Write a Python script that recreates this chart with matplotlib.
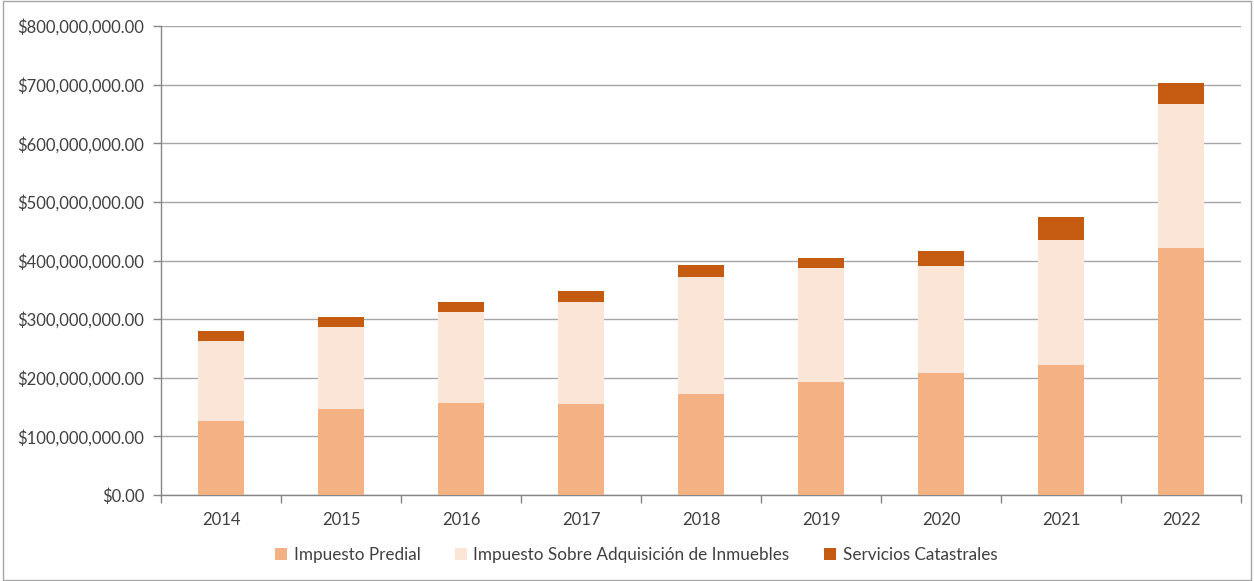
import matplotlib
matplotlib.use("Agg")
import matplotlib.pyplot as plt
from matplotlib.ticker import FuncFormatter, FixedLocator
import numpy as np

years = ["2014", "2015", "2016", "2017", "2018", "2019", "2020", "2021", "2022"]
predial = [126, 147, 157, 155, 172, 193, 208, 222, 421]          # millions
isai = [137, 140, 155, 174, 200, 194, 183, 213, 246]             # millions
catastrales = [17, 17, 17, 19, 20, 17, 25, 39, 36]               # millions
series_names = ["Impuesto Predial", "Impuesto Sobre Adquisición de Inmuebles", "Servicios Catastrales"]
colors = ["#F4B183", "#FBE5D6", "#C55A11"]

plt.rcParams['font.family'] = ['Lato', 'DejaVu Sans']

fig = plt.figure(figsize=(12.54, 5.81), dpi=100)
ax = fig.add_axes([161/1254, 1 - 495/581, (1241-161)/1254, (495-26)/581])

x = np.arange(len(years))
scale = 1e6
p = np.array(predial) * scale
i = np.array(isai) * scale
c = np.array(catastrales) * scale
w = 0.39
ax.bar(x, p, w, color=colors[0], label=series_names[0], zorder=3)
ax.bar(x, i, w, bottom=p, color=colors[1], label=series_names[1], zorder=3)
ax.bar(x, c, w, bottom=p + i, color=colors[2], label=series_names[2], zorder=3)

ax.set_xlim(-0.5, len(years) - 0.5)
ax.set_ylim(0, 800e6)
ax.set_yticks(np.arange(0, 800e6 + 1, 100e6))
ax.yaxis.set_major_formatter(FuncFormatter(lambda v, pos: f"${v:,.2f}"))
ax.grid(axis='y', color='#A6A6A6', linewidth=1, zorder=0)
ax.set_axisbelow(True)

ax.set_xticks(x)
ax.set_xticklabels(years)
ax.xaxis.set_minor_locator(FixedLocator(np.arange(-0.5, len(years), 1)))
ax.tick_params(axis='x', which='major', length=0, pad=12, labelsize=12, labelcolor='#404040')
ax.tick_params(axis='x', which='minor', length=6, color='#868686', width=1)
ax.tick_params(axis='y', length=6, color='#868686', width=1, labelsize=12, labelcolor='#404040', pad=6)

for s in ['top', 'right']:
    ax.spines[s].set_visible(False)
for s in ['left', 'bottom']:
    ax.spines[s].set_color('#868686')
    ax.spines[s].set_linewidth(1)

fig.legend(loc='center', bbox_to_anchor=(636/1254, 1 - 555/581), ncol=3, frameon=False,
           fontsize=12.3, handlelength=0.7, handleheight=0.7, handletextpad=0.4, columnspacing=2.0,
           labelcolor='#404040')

border = plt.Rectangle((0.002, 0.002), 0.996, 0.996, transform=fig.transFigure,
                       fill=False, edgecolor='#A6A6A6', linewidth=1)
fig.patches.append(border)

fig.savefig("out.png", dpi=100)
